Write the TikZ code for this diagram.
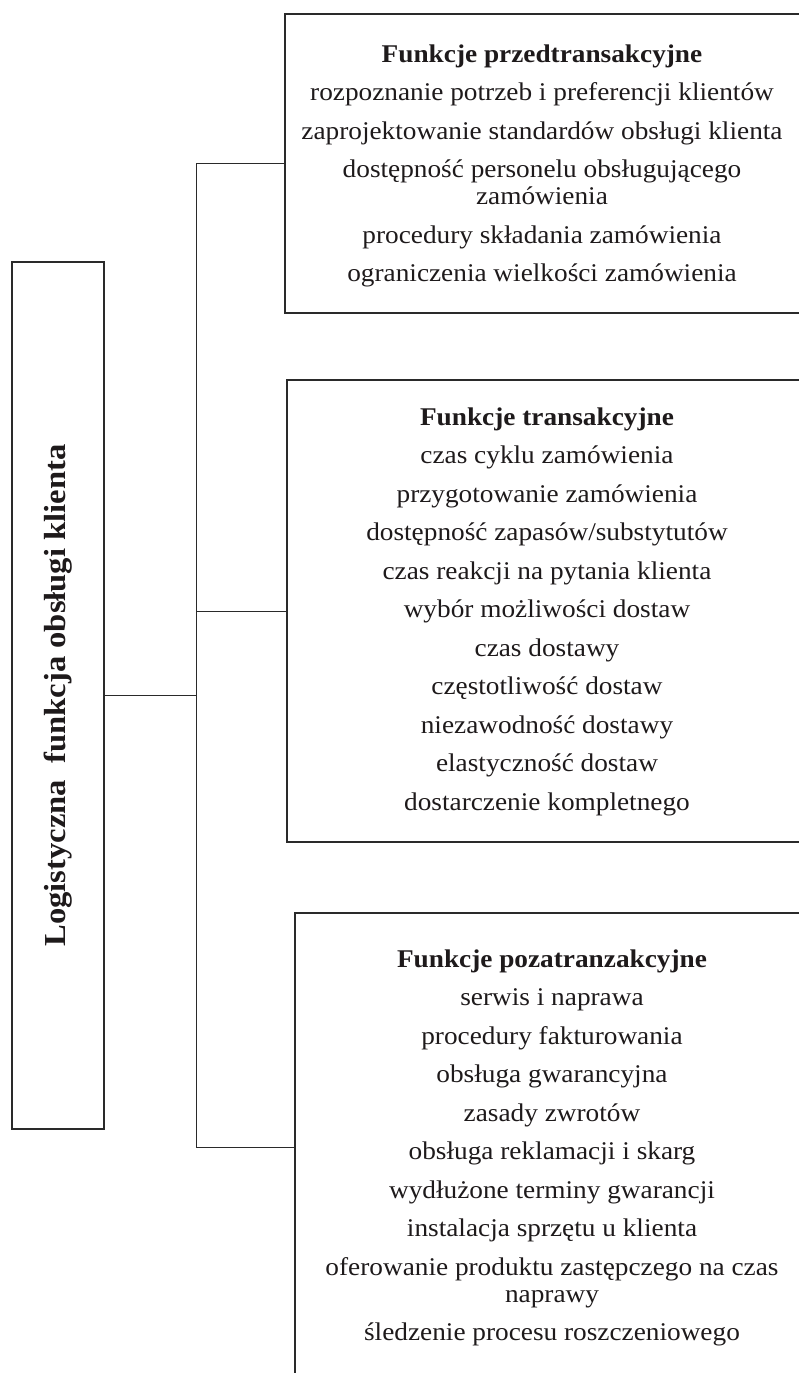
\documentclass[tikz,border=0pt]{standalone}
\usepackage{fontspec}
\setmainfont[FakeStretch=1.07]{Liberation Serif}
\definecolor{linec}{HTML}{2A2A2A}
\definecolor{textc}{HTML}{1E1A1B}
\begin{document}
\begin{tikzpicture}[x=1pt,y=1pt,
  frame/.style={draw=linec, line width=1.2pt, inner sep=0pt, outer sep=0pt},
  conn/.style={draw=linec, line width=1pt},
  txt/.style={anchor=base, inner sep=0pt, text=textc, font=\fontsize{25.5}{27}\selectfont},
  ttl/.style={txt, font=\fontsize{25.5}{27}\selectfont\bfseries}]
\useasboundingbox (0,0) rectangle (799,-1373);
\clip (0,0) rectangle (799,-1373);

% frames
\node[frame, anchor=north west, minimum width=517pt, minimum height=299pt] (b1) at (285,-14) {};
\node[frame, anchor=north west, minimum width=521pt, minimum height=462pt] (b2) at (287,-380) {};
\node[frame, anchor=north west, minimum width=515pt, minimum height=500pt] (b3) at (295,-913) {};
\node[frame, rotate=90, minimum width=867pt, minimum height=92pt, text=textc,
      font=\fontsize{30.5}{33}\selectfont\bfseries] (L) at (58,-695.5) {Logistyczna\ \ funkcja obsługi klienta};

% connectors
\coordinate (s1) at (196,-163.5);
\coordinate (s3) at (196,-1147);
\coordinate (c3) at (295,-1147);
\draw[conn] (b1.west) -- (s1) -- (s3) -- (c3);
\draw[conn] (b2.west) -- (b2.west -| s1);
\draw[conn, line width=1.5pt] (L.south) -- (L.south -| s1);

% box 1 text
\node[ttl] (t1-0) at (542,-62) {Funkcje przedtransakcyjne};
\node[txt] (t1-1) at (542,-100.5) {rozpoznanie potrzeb i preferencji klientów};
\node[txt] (t1-2) at (542,-139) {zaprojektowanie standardów obsługi klienta};
\node[txt] (t1-3) at (542,-177) {dostępność personelu obsługującego};
\node[txt] (t1-4) at (542,-204.5) {zamówienia};
\node[txt] (t1-5) at (542,-243) {procedury składania zamówienia};
\node[txt] (t1-6) at (542,-281.5) {ograniczenia wielkości zamówienia};

% box 2 text
\node[ttl] (t2-0) at (547,-425) {Funkcje transakcyjne};
\node[txt] (t2-1) at (547,-463.5) {czas cyklu zamówienia};
\node[txt] (t2-2) at (547,-502) {przygotowanie zamówienia};
\node[txt] (t2-3) at (547,-540.5) {dostępność zapasów/substytutów};
\node[txt] (t2-4) at (547,-579) {czas reakcji na pytania klienta};
\node[txt] (t2-5) at (547,-617.5) {wybór możliwości dostaw};
\node[txt] (t2-6) at (547,-656) {czas dostawy};
\node[txt] (t2-7) at (547,-694.5) {częstotliwość dostaw};
\node[txt] (t2-8) at (547,-733) {niezawodność dostawy};
\node[txt] (t2-9) at (547,-771.5) {elastyczność dostaw};
\node[txt] (t2-10) at (547,-810) {dostarczenie kompletnego};

% box 3 text
\node[ttl] (t3-0) at (552,-967) {Funkcje pozatranzakcyjne};
\node[txt] (t3-1) at (552,-1005.5) {serwis i naprawa};
\node[txt] (t3-2) at (552,-1044) {procedury fakturowania};
\node[txt] (t3-3) at (552,-1082.5) {obsługa gwarancyjna};
\node[txt] (t3-4) at (552,-1121) {zasady zwrotów};
\node[txt] (t3-5) at (552,-1159.5) {obsługa reklamacji i skarg};
\node[txt] (t3-6) at (552,-1198) {wydłużone terminy gwarancji};
\node[txt] (t3-7) at (552,-1236.5) {instalacja sprzętu u klienta};
\node[txt] (t3-8) at (552,-1275) {oferowanie produktu zastępczego na czas};
\node[txt] (t3-9) at (552,-1302) {naprawy};
\node[txt] (t3-10) at (552,-1340.5) {śledzenie procesu roszczeniowego};
\end{tikzpicture}
\end{document}
